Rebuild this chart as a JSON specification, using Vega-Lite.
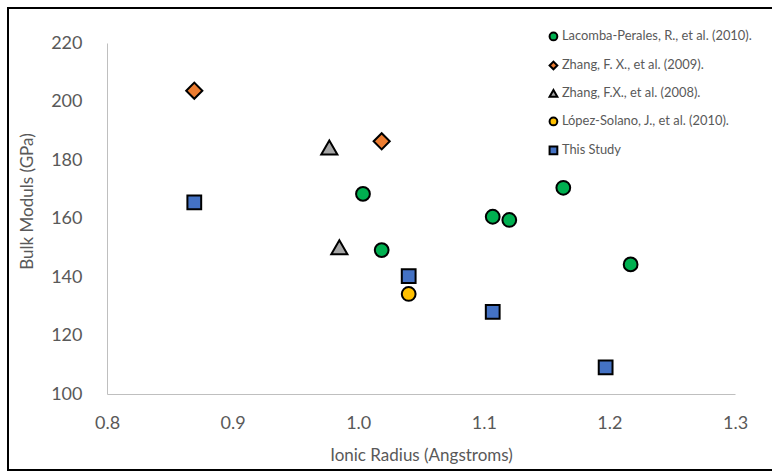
{
  "$schema": "https://vega.github.io/schema/vega-lite/v6.json",
  "width": 800,
  "height": 462,
  "autosize": {"type": "none"},
  "padding": {"left": 8, "top": 8, "right": 0, "bottom": 2},
  "background": "white",
  "config": {
    "view": {"stroke": "black", "strokeWidth": 2},
    "font": "Lato",
    "axis": {"grid": false, "ticks": false, "domainColor": "#BFBFBF", "domainWidth": 1, "labelColor": "#595959", "titleColor": "#595959", "labelFont": "Lato", "titleFont": "Lato", "titleFontWeight": "normal"}
  },
  "data": {
    "values": [
      {"r": 1.0038, "b": 168.4, "s": "Lacomba-Perales, R., et al. (2010)."},
      {"r": 1.0187, "b": 149.2, "s": "Lacomba-Perales, R., et al. (2010)."},
      {"r": 1.1071, "b": 160.6, "s": "Lacomba-Perales, R., et al. (2010)."},
      {"r": 1.1203, "b": 159.5, "s": "Lacomba-Perales, R., et al. (2010)."},
      {"r": 1.1633, "b": 170.5, "s": "Lacomba-Perales, R., et al. (2010)."},
      {"r": 1.2169, "b": 144.3, "s": "Lacomba-Perales, R., et al. (2010)."},
      {"r": 0.8695, "b": 203.7, "s": "Zhang, F. X., et al. (2009)."},
      {"r": 1.0187, "b": 186.4, "s": "Zhang, F. X., et al. (2009)."},
      {"r": 0.977, "b": 184.3, "s": "Zhang, F.X., et al. (2008)."},
      {"r": 0.985, "b": 150.2, "s": "Zhang, F.X., et al. (2008)."},
      {"r": 1.0402, "b": 134.2, "s": "López-Solano, J., et al. (2010)."},
      {"r": 0.8695, "b": 165.5, "s": "This Study"},
      {"r": 1.0402, "b": 140.3, "s": "This Study"},
      {"r": 1.1071, "b": 128.1, "s": "This Study"},
      {"r": 1.197, "b": 109.1, "s": "This Study"}
    ]
  },
  "encoding": {
    "x": {"field": "r", "type": "quantitative", "title": "Ionic Radius (Angstroms)",
      "scale": {"domain": [0.8, 1.3], "zero": false, "nice": false, "range": [99, 727]},
      "axis": {"offset": -76, "values": [0.8, 0.9, 1.0, 1.1, 1.2, 1.3], "labelFontSize": 18, "labelPadding": 20, "titleFontSize": 17, "titlePadding": 15, "labelFlush": false}},
    "y": {"field": "b", "type": "quantitative", "title": "Bulk Moduls (GPa)",
      "scale": {"domain": [100, 220], "zero": false, "nice": false, "range": [386, 35]},
      "axis": {"offset": -99, "values": [100, 120, 140, 160, 180, 200, 220], "labelFontSize": 18, "labelPadding": 25, "titleFontSize": 17, "titlePadding": 14, "titleY": 193}},
    "color": {"field": "s", "type": "nominal", "title": null,
      "scale": {"domain": ["Lacomba-Perales, R., et al. (2010).", "Zhang, F. X., et al. (2009).", "Zhang, F.X., et al. (2008).", "López-Solano, J., et al. (2010).", "This Study"],
        "range": ["#00B050", "#ED7D31", "#A5A5A5", "#FFC000", "#4472C4"]},
      "legend": {"orient": "none", "legendX": 539, "legendY": 22, "labelFontSize": 12.9, "labelColor": "#595959", "symbolSize": 60, "symbolStrokeWidth": 2, "rowPadding": 12, "labelOffset": 2, "labelLimit": 300}},
    "shape": {"field": "s", "type": "nominal",
      "scale": {"domain": ["Lacomba-Perales, R., et al. (2010).", "Zhang, F. X., et al. (2009).", "Zhang, F.X., et al. (2008).", "López-Solano, J., et al. (2010).", "This Study"],
        "range": ["circle", "diamond", "triangle-up", "circle", "square"]}}
  },
  "layer": [
    {
      "transform": [{"filter": "indexof(datum.s, 'Zhang') < 0"}],
      "mark": {"type": "point", "filled": true, "stroke": "black", "strokeWidth": 2, "opacity": 1, "size": 190}
    },
    {
      "transform": [{"filter": "indexof(datum.s, 'Zhang') >= 0"}],
      "mark": {"type": "point", "filled": true, "stroke": "black", "strokeWidth": 2, "opacity": 1, "size": 260}
    }
  ]
}
